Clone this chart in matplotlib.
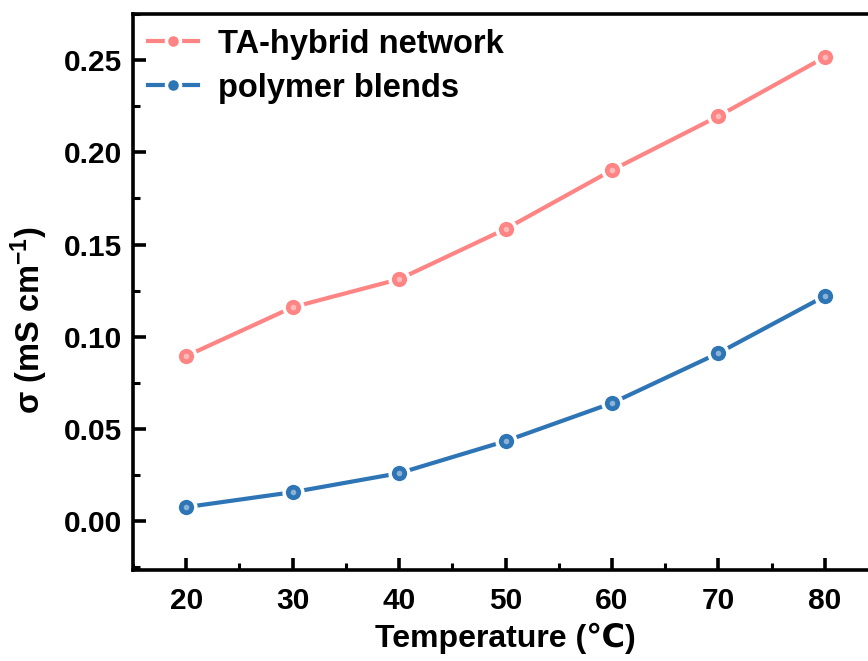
import matplotlib
matplotlib.use("Agg")
import matplotlib.pyplot as plt
from matplotlib.ticker import MultipleLocator

plt.rcParams['font.family'] = ['Liberation Sans', 'DejaVu Sans']
plt.rcParams['font.weight'] = 'bold'
plt.rcParams['mathtext.fontset'] = 'custom'
plt.rcParams['mathtext.rm'] = 'Liberation Sans:bold'
plt.rcParams['mathtext.it'] = 'Liberation Sans:bold'
plt.rcParams['mathtext.bf'] = 'Liberation Sans:bold'

temperature = [20, 30, 40, 50, 60, 70, 80]
ta_hybrid = [0.0895, 0.1160, 0.1312, 0.1584, 0.1903, 0.2196, 0.2516]
blends = [0.0076, 0.0157, 0.0260, 0.0434, 0.0640, 0.0911, 0.1220]

red = '#ff8585'
blue = '#2e75b6'

fig = plt.figure(figsize=(8.68, 6.61), dpi=100)
ax = fig.add_axes([133 / 868, 1 - 570 / 661, (878 - 133) / 868, (570 - 14) / 661])

for vals, col, lab in [(ta_hybrid, red, 'TA-hybrid network'),
                       (blends, blue, 'polymer blends')]:
    ax.plot(temperature, vals, '-o', color=col, lw=3, ms=13.5, mfc=col,
            mec='white', mew=2.5, label=lab, clip_on=False)
    # small highlight to mimic the shaded spheres
    ax.plot(temperature, vals, 'o', color='white', ms=4, alpha=0.45,
            markeredgewidth=0)

ax.set_xlim(15, 85)
ax.set_ylim(-0.0265, 0.275)
ax.xaxis.set_major_locator(MultipleLocator(10))
ax.xaxis.set_minor_locator(MultipleLocator(5))
ax.yaxis.set_major_locator(MultipleLocator(0.05))
ax.yaxis.set_minor_locator(MultipleLocator(0.025))
ax.yaxis.set_major_formatter(matplotlib.ticker.FormatStrFormatter('%.2f'))

for s in ax.spines.values():
    s.set_linewidth(2.6)
ax.tick_params(which='major', direction='in', length=9, width=2.6, labelsize=21.5)
ax.tick_params(axis='y', which='major', pad=8)
ax.tick_params(axis='x', which='major', pad=12)
ax.tick_params(which='minor', direction='in', length=5, width=2.2)
ax.tick_params(top=False, right=False, which='both')

ax.set_xlabel('Temperature (\u2103)', fontsize=23, fontweight='bold', labelpad=6)
ax.set_ylabel(r'σ (mS cm$^{-1}$)', fontsize=23.5, fontweight='bold')
ax.yaxis.set_label_coords(-0.112, 0.45)

ax.legend(loc='upper left', frameon=False, fontsize=23.5, handlelength=1.55,
          handletextpad=0.6, borderaxespad=0.15, labelspacing=0.4,
          markerscale=0.75, borderpad=0.3)

fig.savefig('out.png', dpi=100)
